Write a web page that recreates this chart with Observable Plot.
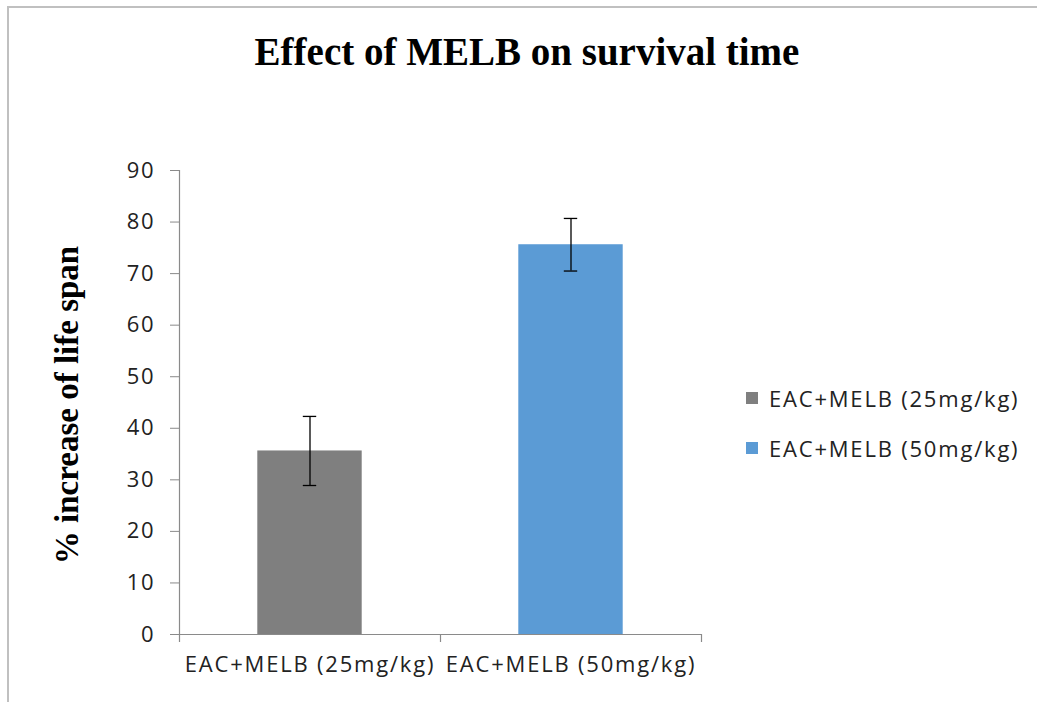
<!DOCTYPE html>
<html>
<head>
<meta charset="utf-8">
<script src="https://cdn.jsdelivr.net/npm/d3@7"></script>
<script src="https://cdn.jsdelivr.net/npm/@observablehq/plot@0.6"></script>
<style>
  body { margin: 0; background: #fff; }
  #wrap { position: relative; width: 1037px; height: 702px; overflow: hidden; background: #fff; }
  #frame { position: absolute; left: 7px; top: 6px; width: 1100px; height: 800px;
           border-top: 2px solid #c0c0c0; border-left: 2px solid #c0c0c0; }
  #title { position: absolute; left: 0; width: 1054px; top: 29px; text-align: center;
           font: bold 39px "Liberation Serif", serif; color: #000; white-space: nowrap; }
  #ylabel { position: absolute; left: 67px; top: 405px; transform: translate(-50%, -50%) rotate(-90deg);
            font: bold 33px "Liberation Serif", serif; color: #000; white-space: nowrap; }
  #chart { position: absolute; left: 0; top: 0; }
  #legend { position: absolute; left: 746px; top: 384px; font: 22px "Open Sans", sans-serif; letter-spacing: 1.8px; color: #222; }
  .item { display: flex; align-items: center; height: 28px; margin-bottom: 22px; white-space: nowrap; }
  .sw { width: 12px; height: 12px; margin-right: 11px; }
</style>
</head>
<body>
<div id="wrap">
  <div id="frame"></div>
  <div id="title">Effect of MELB on survival time</div>
  <div id="ylabel">% increase of life span</div>
  <div id="chart"></div>
  <div id="legend"></div>
</div>
<script>
const categories = ["EAC+MELB (25mg/kg)", "EAC+MELB (50mg/kg)"];
const values = [35.6, 75.6];
const errors = [6.7, 5.1];
const colors = ["#7f7f7f", "#5b9bd5"];
const yTicks = [0, 10, 20, 30, 40, 50, 60, 70, 80, 90];

const data = categories.map((c, i) => ({cat: c, v: values[i], e: errors[i], color: colors[i]}));

const W = 1037, H = 702;
const mL = 179, mR = 336, mT = 170, mB = 68;
const step = (W - mL - mR) / 2;
const tickDown = 8 / ((H - mT - mB) / 90);
const axisColor = "#8a8a8a";

const plot = Plot.plot({
  width: W, height: H,
  marginLeft: mL, marginRight: mR, marginTop: mT, marginBottom: mB,
  style: {background: "transparent", fontFamily: "'Open Sans', sans-serif"},
  x: {type: "band", domain: categories, paddingInner: 0.6, paddingOuter: 0.3, round: false, label: null},
  y: {domain: [0, 90], label: null},
  marks: [
    Plot.barY(data, {x: "cat", y: "v", fill: "color"}),
    Plot.ruleY([0], {stroke: axisColor, strokeWidth: 1.2}),
    Plot.ruleX([categories[0]], {x: d => d, dx: -step / 2, y1: -tickDown, y2: 90, stroke: axisColor, strokeWidth: 1.2}),
    Plot.ruleX(categories, {x: d => d, dx: step / 2, y1: -tickDown, y2: 0, stroke: axisColor, strokeWidth: 1.2}),
    Plot.ruleX(data, {x: "cat", y1: d => d.v - d.e, y2: d => d.v + d.e, stroke: "#000", strokeWidth: 1.3}),
    Plot.tickY(data, {x: "cat", y: d => d.v - d.e, stroke: "#000", strokeWidth: 1.3, insetLeft: 45.5, insetRight: 45.5}),
    Plot.tickY(data, {x: "cat", y: d => d.v + d.e, stroke: "#000", strokeWidth: 1.3, insetLeft: 45.5, insetRight: 45.5}),
    Plot.axisY({ticks: yTicks, tickSize: 9, tickPadding: 15, fontSize: 22, stroke: axisColor, label: null}),
    Plot.axisX({tickSize: 0, tickPadding: 22, fontSize: 22, label: null})
  ]
});
plot.querySelectorAll("text").forEach(t => {
  t.setAttribute("fill", "#222");
  t.setAttribute("letter-spacing", "1.8");
});
document.getElementById("chart").appendChild(plot);

const legend = document.getElementById("legend");
categories.forEach((c, i) => {
  const item = document.createElement("div");
  item.className = "item";
  const sw = document.createElement("div");
  sw.className = "sw";
  sw.style.background = colors[i];
  const lab = document.createElement("span");
  lab.textContent = c;
  item.appendChild(sw);
  item.appendChild(lab);
  legend.appendChild(item);
});
</script>
</body>
</html>
